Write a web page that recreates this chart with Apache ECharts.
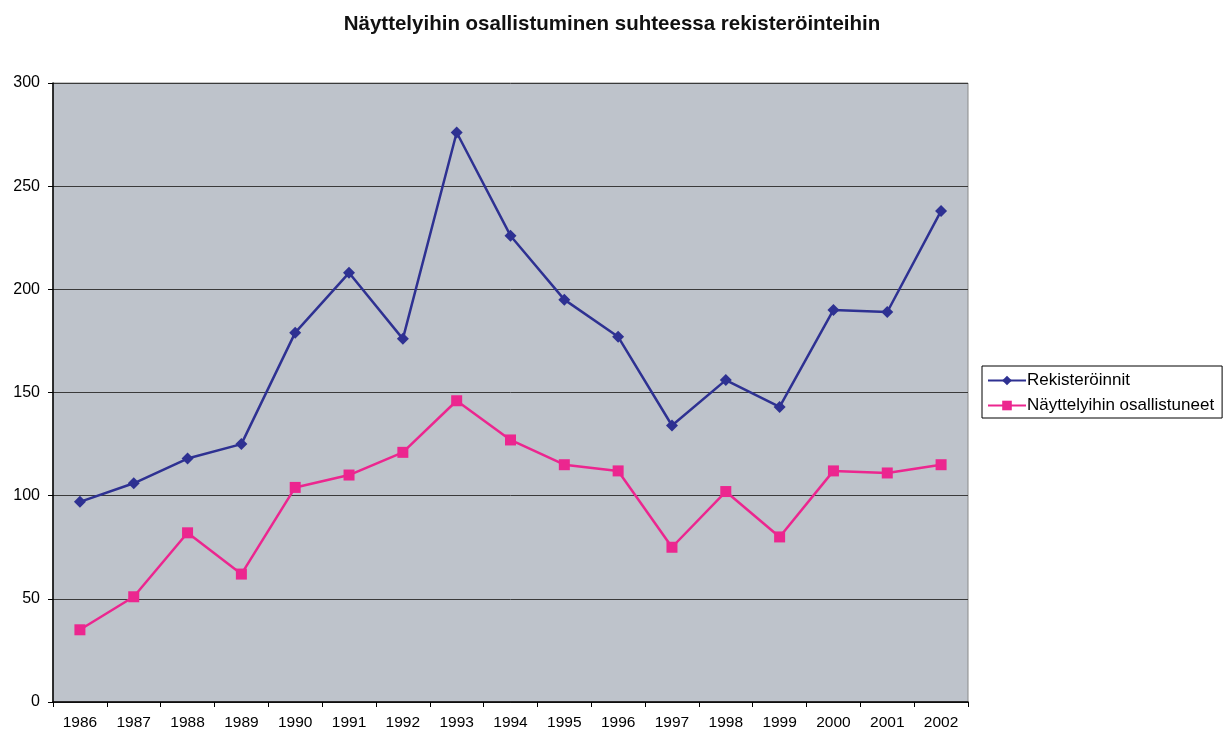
<!DOCTYPE html>
<html>
<head>
<meta charset="utf-8">
<script src="https://cdn.jsdelivr.net/npm/echarts@6/dist/echarts.min.js"></script>
<style>html,body{margin:0;padding:0;background:#fff}#chart{width:1224px;height:735px}</style>
</head>
<body>
<div id="chart"></div>
<script>
const years = ['1986','1987','1988','1989','1990','1991','1992','1993','1994','1995','1996','1997','1998','1999','2000','2001','2002'];
const rekisteroinnit = [97,106,118,125,179,208,176,276,226,195,177,134,156,143,190,189,238];
const osallistuneet = [35,51,82,62,104,110,121,146,127,115,112,75,102,80,112,111,115];
const yTicks = {min: 0, max: 300, interval: 50};

const chart = echarts.init(document.getElementById('chart'));
const font = '"Liberation Sans", Arial, sans-serif';
chart.setOption({
  animation: false,
  textStyle: {fontFamily: font},
  title: {
    text: 'Näyttelyihin osallistuminen suhteessa rekisteröinteihin',
    left: 'center', top: 9,
    textStyle: {fontFamily: font, fontSize: 20.5, fontWeight: 'bold', color: '#111'}
  },
  legend: {
    orient: 'vertical',
    left: 982, top: 366,
    padding: [6, 8, 4, 5],
    itemGap: 8,
    itemWidth: 38, itemHeight: 12,
    borderColor: '#000', borderWidth: 1,
    backgroundColor: '#fff',
    textStyle: {fontFamily: font, fontSize: 17, color: '#000', padding: [0,0,0,-4]},
    data: ['Rekisteröinnit', 'Näyttelyihin osallistuneet']
  },
  grid: {
    left: 53, top: 83, right: 256, bottom: 33,
    show: true, backgroundColor: '#BEC3CB', borderColor: '#8a8a8a', borderWidth: 1
  },
  xAxis: {
    type: 'category', data: years, boundaryGap: true,
    axisLine: {lineStyle: {color: '#000', width: 1.5}},
    axisTick: {show: true, length: 5, interval: 0, lineStyle: {color: '#000'}},
    axisLabel: {interval: 0, fontSize: 15.5, color: '#000', margin: 13, fontFamily: font}
  },
  yAxis: {
    type: 'value', min: yTicks.min, max: yTicks.max, interval: yTicks.interval,
    axisLine: {show: true, lineStyle: {color: '#000', width: 1.5}},
    axisTick: {show: true, length: 5, lineStyle: {color: '#000'}},
    axisLabel: {fontSize: 16, color: '#000', margin: 13, fontFamily: font},
    splitLine: {show: true, lineStyle: {color: '#3a3a3a', width: 1}}
  },
  series: [
    {
      name: 'Rekisteröinnit', type: 'line', data: rekisteroinnit,
      symbol: 'diamond', symbolSize: 12, showAllSymbol: true,
      lineStyle: {color: '#2E3192', width: 2.5},
      itemStyle: {color: '#2E3192'}
    },
    {
      name: 'Näyttelyihin osallistuneet', type: 'line', data: osallistuneet,
      symbol: 'rect', symbolSize: 11, showAllSymbol: true,
      lineStyle: {color: '#EC268F', width: 2.5},
      itemStyle: {color: '#EC268F'}
    }
  ]
});
</script>
</body>
</html>
